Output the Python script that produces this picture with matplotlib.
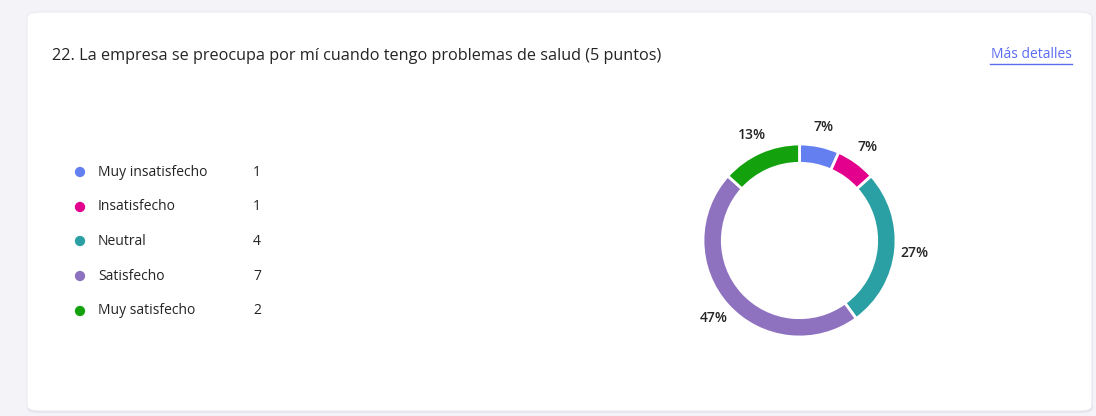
import matplotlib
matplotlib.use("Agg")
import matplotlib.pyplot as plt
from matplotlib.patches import FancyBboxPatch

title = "22. La empresa se preocupa por mí cuando tengo problemas de salud (5 puntos)"
link_text = "Más detalles"
categories = ["Muy insatisfecho", "Insatisfecho", "Neutral", "Satisfecho", "Muy satisfecho"]
counts = [1, 1, 4, 7, 2]
colors = ["#6480f0", "#e3008c", "#2aa0a4", "#8f72bf", "#13a10e"]

W, H = 1096, 416
fig = plt.figure(figsize=(W / 100, H / 100), dpi=100)
fig.patch.set_facecolor("#f4f3f8")

def fx(px):
    return px / W

def fy(py):
    return 1 - py / H

# card shadow + card
shadow = FancyBboxPatch((fx(27), fy(413)), fx(1093 - 27), (413 - 13) / H,
                        boxstyle="round,pad=0,rounding_size=0.012",
                        transform=fig.transFigure, facecolor="#e6e4ec",
                        edgecolor="none", zorder=-2)
fig.patches.append(shadow)
card = FancyBboxPatch((fx(27), fy(411)), fx(1092 - 27), (411 - 12) / H,
                      boxstyle="round,pad=0,rounding_size=0.012",
                      transform=fig.transFigure, facecolor="white",
                      edgecolor="#ebe9f0", linewidth=0.8, zorder=-1)
fig.patches.append(card)

font = "Open Sans"
fig.text(fx(52), fy(56), title, fontsize=11.7, color="#242424",
         family=font, va="center", ha="left")
fig.text(fx(1072), fy(55), link_text, fontsize=10, color="#5b6cf0",
         family=font, va="center", ha="right")
fig.add_artist(plt.Line2D([fx(990), fx(1072)], [fy(64), fy(64)],
                          color="#5b6cf0", linewidth=1, transform=fig.transFigure))

# legend
ys = [172, 207, 241, 276, 311]
for cat, n, y in zip(categories, counts, ys):
    fig.text(fx(98), fy(y), cat, fontsize=10, color="#242424", family=font,
             va="center", ha="left")
    fig.text(fx(257), fy(y), str(n), fontsize=10, color="#242424", family=font,
             va="center", ha="center")

lax = fig.add_axes([0, 0, 1, 1])
lax.set_xlim(0, W)
lax.set_ylim(H, 0)
lax.axis("off")
lax.scatter([80] * len(ys), ys, s=55, c=colors, zorder=3, linewidths=0)

# donut
cx, cy, R = 799.5, 240.5, 96.5
ax = fig.add_axes([fx(cx - R), fy(cy + R), 2 * R / W, 2 * R / H])
total = sum(counts)
pct_labels = [f"{round(100 * v / total)}%" for v in counts]
wedges, texts = ax.pie(counts, colors=colors, startangle=90, counterclock=False,
                       radius=1, labels=pct_labels, labeldistance=1.2,
                       wedgeprops=dict(width=0.2, edgecolor="white", linewidth=2),
                       textprops=dict(fontsize=10, color="#242424", family=font,
                                      fontweight="semibold"))
for t in texts:
    t.set_ha("center")
    t.set_va("center")
ax.set_xlim(-1, 1)
ax.set_ylim(-1, 1)
ax.set_aspect("equal")
ax.axis("off")

fig.savefig("out.png", dpi=100, facecolor=fig.get_facecolor())
